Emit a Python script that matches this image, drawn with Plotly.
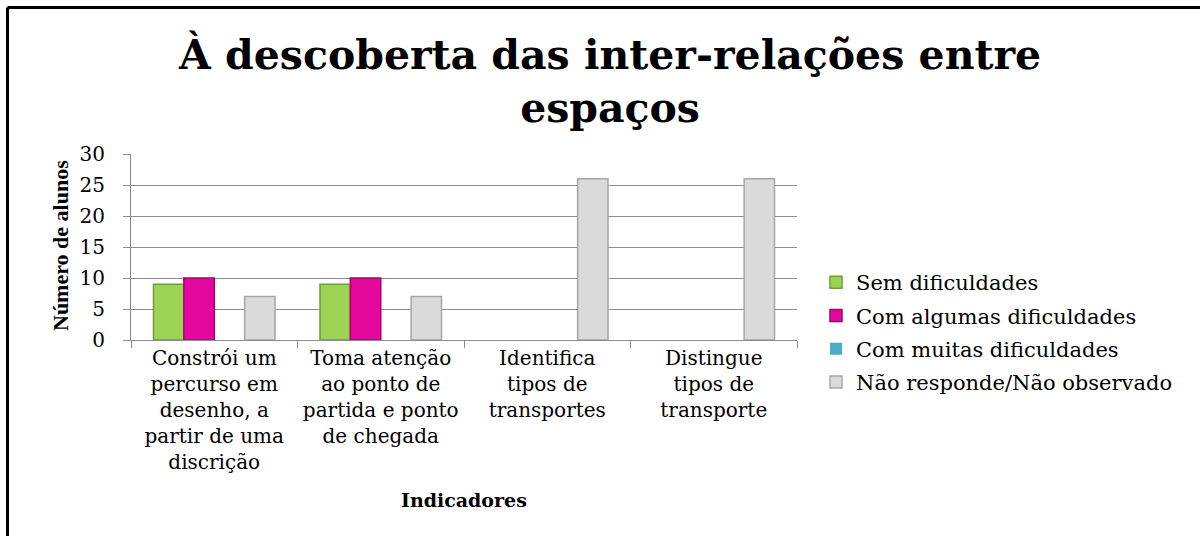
import plotly.graph_objects as go

categories = [
    "Constrói um<br>percurso em<br>desenho, a<br>partir de uma<br>discrição",
    "Toma atenção<br>ao ponto de<br>partida e ponto<br>de chegada",
    "Identifica<br>tipos de<br>transportes",
    "Distingue<br>tipos de<br>transporte",
]
series_names = [
    "Sem dificuldades",
    "Com algumas dificuldades",
    "Com muitas dificuldades",
    "Não responde/Não observado",
]
sem_dificuldades = [9, 9, 0, 0]
com_algumas = [10, 10, 0, 0]
com_muitas = [0, 0, 0, 0]
nao_responde = [7, 7, 26, 26]
y_ticks = [0, 5, 10, 15, 20, 25, 30]
title_text = "<b>À descoberta das inter-relações entre<br>espaços</b>"

values = [sem_dificuldades, com_algumas, com_muitas, nao_responde]
fills = ["#9BD454", "#E3089B", "#4BACC6", "#DADADA"]
edges = ["#6E9E35", "#A8006F", "#31859C", "#A6A6A6"]

W, H = 1200, 536
L, R, T, B = 131, 1200 - 797, 154, 536 - 340
pw, ph = W - L - R, H - T - B


def px(x):
    return (x - L) / pw


def py(y):
    return (H - B - y) / ph


fig = go.Figure()
for i, (name, vals, fc, ec) in enumerate(zip(series_names, values, fills, edges)):
    fig.add_trace(go.Bar(
        x=categories, y=vals, name=name, legendgroup=f"g{i}",
        marker=dict(color=fc,
                    line=dict(color=ec, width=[1.5 if v else 0 for v in vals])),
    ))

serif = "Liberation Serif"
wide = "DejaVu Serif"

fig.update_layout(
    width=W, height=H,
    margin=dict(l=L, r=R, t=T, b=B, autoexpand=False),
    paper_bgcolor="white", plot_bgcolor="white",
    barmode="group", bargap=0.27, bargroupgap=0,
    legend=dict(
        x=px(816), xanchor="left", y=py(262), yanchor="top",
        font=dict(family=wide, size=21, color="black"),
        bgcolor="rgba(0,0,0,0)", tracegroupgap=3, traceorder="grouped",
    ),
    xaxis=dict(
        showline=True, linecolor="#8C8C8C", linewidth=1,
        ticks="outside", tickson="boundaries", ticklen=7, tickcolor="#8C8C8C",
        tickfont=dict(family=wide, size=20, color="black"),
        showgrid=False,
    ),
    yaxis=dict(
        range=[0, 30], tickvals=y_ticks,
        showline=True, linecolor="#8C8C8C", linewidth=1,
        ticks="outside", ticklen=7, tickcolor="#8C8C8C",
        gridcolor="#8C8C8C", gridwidth=1,
        tickfont=dict(family=wide, size=20, color="black"),
        ticklabelstandoff=14,
        zeroline=False,
    ),
    annotations=[
        dict(text=title_text,
             x=px(609), y=py(81), xref="paper", yref="paper",
             xanchor="center", yanchor="middle", showarrow=False,
             font=dict(family=wide, size=41, color="black")),
        dict(text="<b>Número de alunos</b>", textangle=-90,
             x=px(60), y=py(246), xref="paper", yref="paper",
             xanchor="center", yanchor="middle", showarrow=False,
             font=dict(family=serif, size=22, color="black")),
        dict(text="<b>Indicadores</b>",
             x=px(464), y=py(500), xref="paper", yref="paper",
             xanchor="center", yanchor="middle", showarrow=False,
             font=dict(family=wide, size=19, color="black")),
    ],
    shapes=[
        dict(type="line", xref="paper", yref="paper",
             x0=px(7.5), y0=py(7.5), x1=px(1210), y1=py(7.5),
             line=dict(color="black", width=3)),
        dict(type="line", xref="paper", yref="paper",
             x0=px(7.5), y0=py(7.5), x1=px(7.5), y1=py(545),
             line=dict(color="black", width=3)),
    ],
)

fig.write_html("out.html", config={"displayModeBar": False},
               post_script="document.body.style.margin='0px';")
